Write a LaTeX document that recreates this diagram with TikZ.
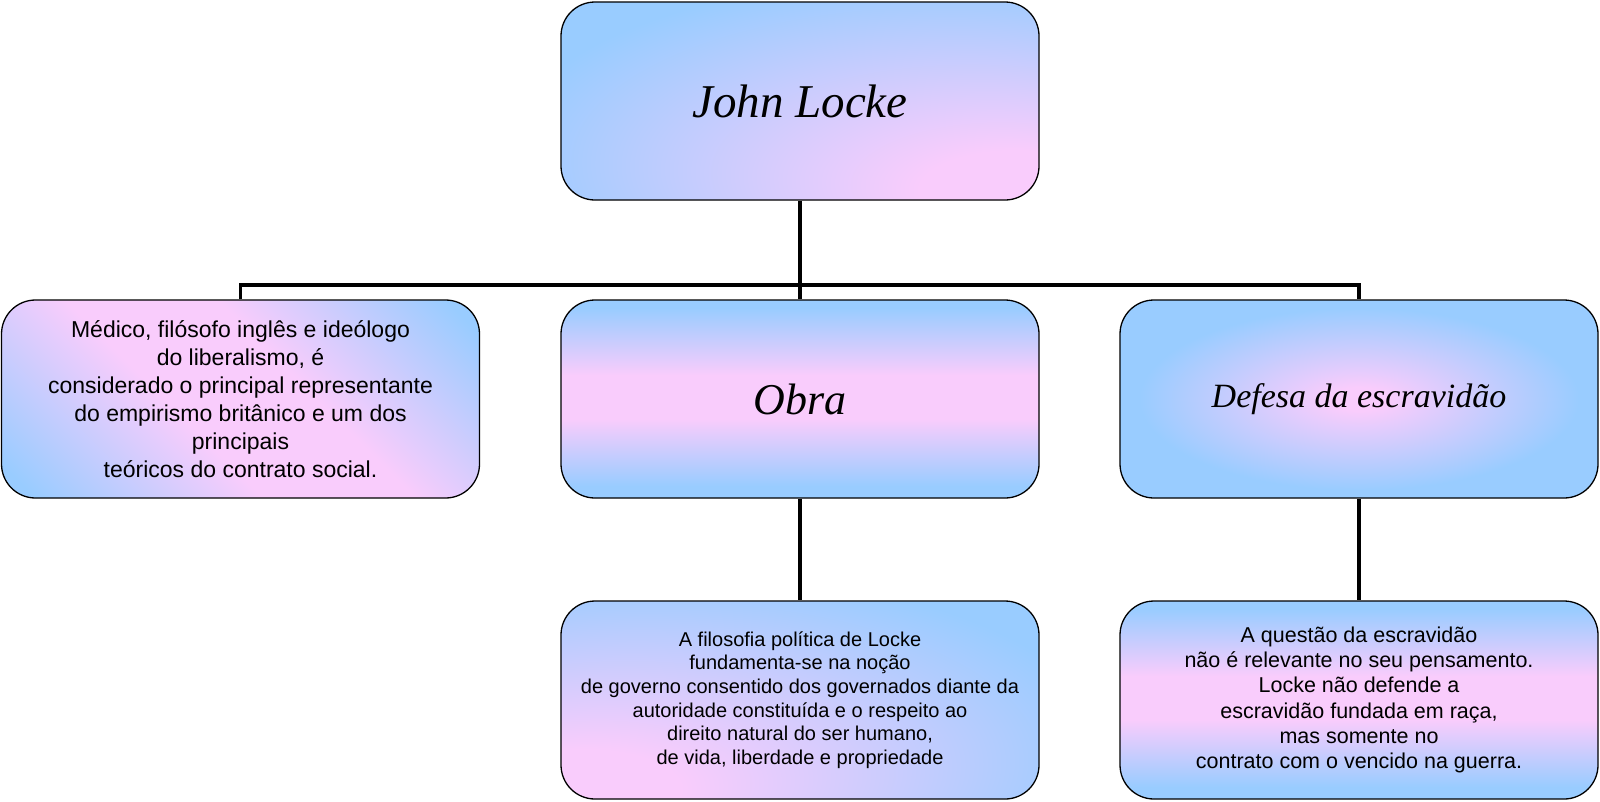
\documentclass[tikz,border=0pt]{standalone}
\usepackage{fontspec}
\setmainfont{Liberation Sans}
\newfontfamily\titlefont{Liberation Serif}
\definecolor{blueC}{RGB}{153,204,255}
\definecolor{pinkC}{RGB}{249,204,252}
\pgfdeclareradialshading{cornerBR}{\pgfpoint{25bp}{-25bp}}{color(0bp)=(pinkC); color(10bp)=(pinkC); color(45bp)=(blueC); color(100bp)=(blueC)}
\pgfdeclareradialshading{cornerBL}{\pgfpoint{-25bp}{-25bp}}{color(0bp)=(pinkC); color(10bp)=(pinkC); color(46bp)=(blueC); color(100bp)=(blueC)}
\pgfdeclareradialshading{centerglow}{\pgfpoint{0bp}{0bp}}{color(0bp)=(pinkC); color(3bp)=(pinkC); color(23bp)=(blueC); color(100bp)=(blueC)}
\pgfdeclareverticalshading{bandbpb}{100bp}{color(0bp)=(blueC); color(28bp)=(blueC); color(45bp)=(pinkC); color(56bp)=(pinkC); color(73bp)=(blueC); color(100bp)=(blueC)}
\pgfdeclareverticalshading{diagbpb}{100bp}{color(0bp)=(blueC); color(18bp)=(blueC); color(42bp)=(pinkC); color(58bp)=(pinkC); color(82bp)=(blueC); color(100bp)=(blueC)}
\begin{document}
\begin{tikzpicture}[x=1pt,y=-1pt,
  box/.style={draw=black, line width=1.3pt, rounded corners=34pt,
    minimum width=478pt, minimum height=198pt, inner sep=0pt,
    align=center, shade, text=black},
  conn/.style={draw=black, line width=3.5pt},
  bigtitle/.style={font=\titlefont\itshape\fontsize{47}{52}\selectfont},
  obratitle/.style={font=\titlefont\itshape\fontsize{44}{48}\selectfont},
  midtitle/.style={font=\titlefont\itshape\fontsize{34}{40}\selectfont},
  lefttext/.style={font=\fontsize{23}{28}\selectfont},
  bmtext/.style={font=\fontsize{20}{23.7}\selectfont},
  brtext/.style={font=\fontsize{21.5}{25.2}\selectfont}]
\useasboundingbox (0,0) rectangle (1600,801);
\node[box, shading=cornerBR, bigtitle] (top) at (800,101) {John Locke};
\node[box, shading=diagbpb, shading angle=-45, lefttext] (left) at (240.5,399)
  {Médico, filósofo inglês e ideólogo\\ do liberalismo, é\\ considerado o principal representante\\ do empirismo britânico e um dos\\ principais\\ teóricos do contrato social.};
\node[box, shading=bandbpb, obratitle] (mid) at (800,399) {Obra};
\node[box, shading=centerglow, midtitle] (right) at (1359,399) {Defesa da escravidão};
\node[box, shading=cornerBL, bmtext] (bm) at (800,700)
  {A filosofia política de Locke\\ fundamenta-se na noção\\ de governo consentido dos governados diante da\\ autoridade constituída e o respeito ao\\ direito natural do ser humano,\\ de vida, liberdade e propriedade};
\node[box, shading=bandbpb, brtext] (br) at (1359,700)
  {A questão da escravidão\\ não é relevante no seu pensamento.\\ Locke não defende a\\ escravidão fundada em raça,\\ mas somente no\\ contrato com o vencido na guerra.};
\coordinate (hl) at (240.5,285);
\coordinate (hr) at (1359,285);
\draw[conn] (left.north) -- (hl) -- (hr) -- (right.north);
\draw[conn] (top.south) -- (mid.north);
\draw[conn] (mid.south) -- (bm.north);
\draw[conn] (right.south) -- (br.north);
\end{tikzpicture}
\end{document}
